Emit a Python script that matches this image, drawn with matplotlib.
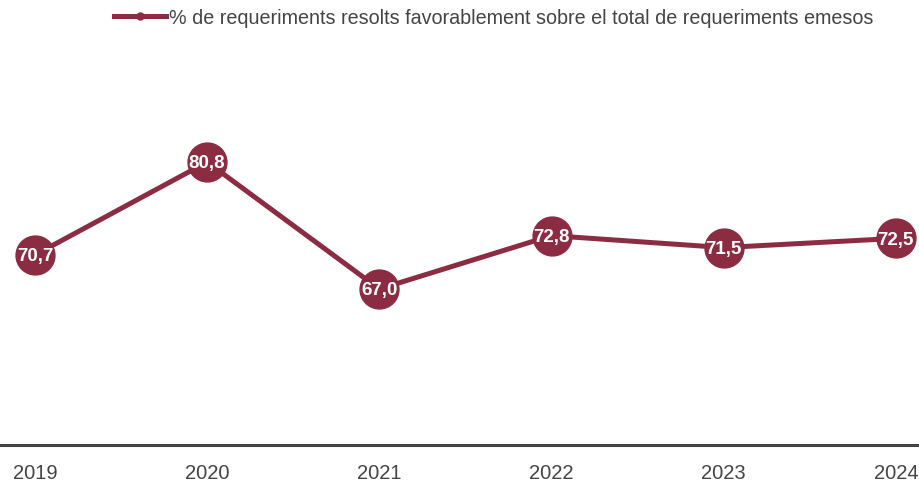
import matplotlib
matplotlib.use("Agg")
from matplotlib import pyplot as plt
from matplotlib.lines import Line2D

years = ["2019", "2020", "2021", "2022", "2023", "2024"]
values = [70.7, 80.8, 67.0, 72.8, 71.5, 72.5]
series_name = "% de requeriments resolts favorablement sobre el total de requeriments emesos"

plt.rcParams['font.family'] = ['Liberation Sans', 'DejaVu Sans']

color = "#8b2c43"
fig = plt.figure(figsize=(9.2, 4.85), dpi=100)
ax = fig.add_axes([0, 0.0796, 1, 0.7588])

x = list(range(len(years)))
ax.plot(x, values, color=color, linewidth=3.6, marker="o", markersize=28,
        markerfacecolor=color, markeredgecolor=color, solid_capstyle="round",
        label=series_name, zorder=2)

for xi, v in zip(x, values):
    ax.text(xi, v - 0.1, f"{v:.1f}".replace(".", ","), color="white", fontsize=13.5,
            fontweight="bold", ha="center", va="center", zorder=3)

ax.set_xlim(-0.203, 5.14)
ax.set_ylim(50, 90)
ax.set_xticks(x)
ax.set_xticklabels(years, fontsize=14.5, color="#444444")
ax.tick_params(axis="x", length=0, pad=13)
ax.set_yticks([])
for side in ["top", "right", "left"]:
    ax.spines[side].set_visible(False)
ax.spines["bottom"].set_color("#444444")
ax.spines["bottom"].set_linewidth(2.2)

# legend at the top
handle = Line2D([], [], color=color, linewidth=3.6, marker="o", markersize=5)
fig.legend([handle], [series_name], loc="center", bbox_to_anchor=(0.537, 0.962),
           frameon=False, fontsize=14.2, handlelength=2.6, handletextpad=0.2,
           labelcolor="#444444")

fig.savefig("out.png", dpi=100)
